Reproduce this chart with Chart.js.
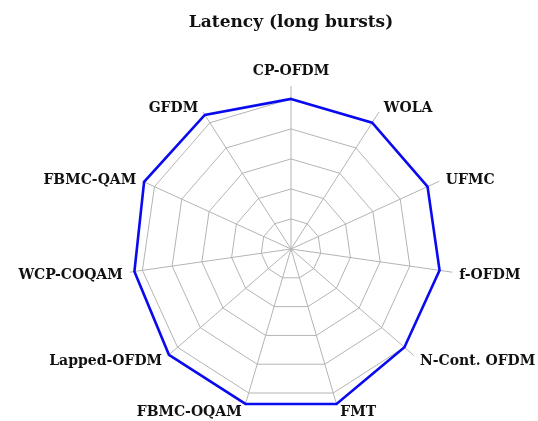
<!DOCTYPE html>
<html>
<head>
<meta charset="utf-8">
<script src="https://cdn.jsdelivr.net/npm/chart.js@4.4.1/dist/chart.umd.min.js"></script>
<style>
  html, body { margin: 0; padding: 0; background: #fff; }
  canvas { display: block; }
</style>
</head>
<body>
<canvas id="chartLatency" width="538" height="421"></canvas>
<script>
// waveforms, clockwise from the top
const waveforms = ['CP-OFDM', 'WOLA', 'UFMC', 'f-OFDM', 'N-Cont. OFDM', 'FMT',
  'FBMC-OQAM', 'Lapped-OFDM', 'WCP-COQAM', 'FBMC-QAM', 'GFDM'];
const latencyScores = [5, 5, 5, 5, 5, 5.38, 5.38, 5.38, 5.27, 5.38, 5.31];
const gridLevels = [1, 2, 3, 4, 5];

const labelFont = 'bold 14px "DejaVu Serif"';

// labels placed like the tikz ones: beside the spoke end, not radially
const spokeLabels = {
  id: 'spokeLabels',
  afterDraw(chart) {
    const scale = chart.scales.r;
    const ctx = chart.ctx;
    const dist = scale.drawingArea - 1;
    ctx.save();
    ctx.font = labelFont;
    ctx.fillStyle = '#111';
    ctx.textBaseline = 'alphabetic';
    waveforms.forEach((name, i) => {
      const p = scale.getPointPosition(i, dist);
      const ux = (p.x - scale.xCenter) / dist;
      const uy = (p.y - scale.yCenter) / dist;
      let x = p.x, mid;
      if (Math.abs(ux) < 0.1) {
        ctx.textAlign = 'center';
        mid = p.y - 17;
      } else {
        ctx.textAlign = ux > 0 ? 'left' : 'right';
        x = p.x + Math.sign(ux) * (2 + 6 * Math.abs(ux));
        mid = p.y + 0.5 + 6.8 * uy;
      }
      ctx.fillText(name, x, mid + 5);
    });
    ctx.restore();
  }
};

new Chart(document.getElementById('chartLatency'), {
  type: 'radar',
  data: {
    labels: waveforms,
    datasets: [{
      label: 'Latency',
      data: latencyScores,
      borderColor: '#0a0aee',
      borderWidth: 2.6,
      borderJoinStyle: 'miter',
      fill: false,
      pointRadius: 0,
      tension: 0
    }]
  },
  options: {
    responsive: false,
    animation: false,
    layout: { padding: { left: 128, right: 84, top: 0, bottom: 8 } },
    plugins: {
      legend: { display: false },
      tooltip: { enabled: false },
      title: {
        display: true,
        text: 'Latency (long bursts)',
        color: '#111',
        font: { family: 'DejaVu Serif', size: 17, weight: 'bold' },
        padding: { top: 12.5, bottom: 53.3 }
      }
    },
    scales: {
      r: {
        min: 0,
        max: 5.43,
        ticks: { display: false, stepSize: 1 },
        grid: {
          color: ctx => gridLevels.includes(ctx.tick.value) ? '#b4b4b4' : 'rgba(0,0,0,0)',
          lineWidth: 1
        },
        angleLines: { color: '#b4b4b4', lineWidth: 1 },
        pointLabels: { display: false }
      }
    }
  },
  plugins: [spokeLabels]
});
</script>
</body>
</html>
